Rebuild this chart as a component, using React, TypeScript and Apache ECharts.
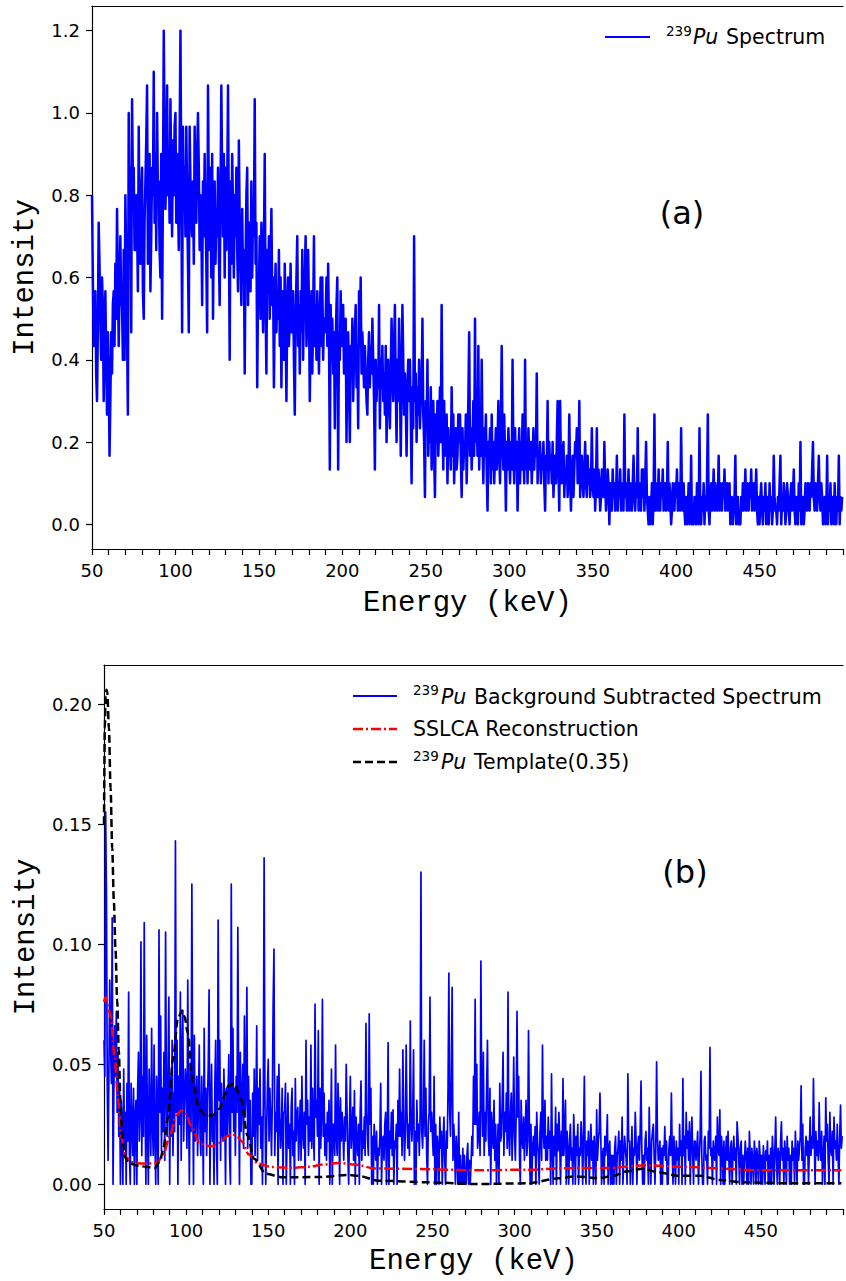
import React, { useEffect, useRef } from "react";
import * as echarts from "echarts";

// First channel sits at 50 keV; channels are 0.5 keV wide.
const ENERGY_START = 50;
const CHANNEL_KEV = 0.5;

// Raw 239Pu spectrum, counts per channel (50..499.5 keV), normalised by COUNT_NORM.
const COUNT_NORM = 30;
const rawCounts = [
  24, 18, 13, 16, 17, 11, 9, 14, 22, 19, 15, 12, 18, 16, 9, 13, 17, 12, 8, 14, // 50
  11, 5, 9, 14, 11, 16, 17, 13, 19, 15, 23, 18, 13, 17, 21, 16, 16, 12, 20, 12, // 60
  24, 19, 14, 8, 30, 22, 26, 14, 31, 25, 26, 20, 20, 24, 22, 17, 29, 21, 19, 24, // 70
  26, 17, 15, 22, 25, 28, 32, 19, 23, 27, 17, 21, 26, 24, 33, 22, 27, 20, 30, 24, // 80
  25, 20, 18, 27, 15, 24, 36, 28, 23, 26, 32, 24, 27, 22, 31, 25, 21, 28, 24, 29, // 90
  30, 22, 27, 24, 20, 28, 36, 25, 14, 29, 23, 26, 21, 29, 24, 19, 14, 29, 25, 22, // 100
  21, 25, 19, 29, 24, 22, 27, 30, 26, 20, 24, 22, 16, 25, 21, 27, 23, 19, 14, 32, // 110
  24, 20, 26, 18, 27, 15, 22, 25, 19, 23, 21, 26, 20, 16, 24, 32, 25, 21, 27, 18, // 120
  26, 20, 24, 32, 22, 12, 25, 19, 27, 23, 18, 24, 21, 26, 20, 17, 28, 22, 19, 16, // 130
  23, 18, 20, 11, 19, 24, 26, 16, 22, 20, 17, 25, 18, 23, 21, 31, 19, 22, 10, 17, // 140
  17, 21, 15, 22, 18, 14, 20, 27, 16, 11, 20, 17, 21, 15, 19, 23, 16, 18, 10, 16, // 150
  19, 14, 17, 15, 20, 13, 18, 10, 17, 14, 12, 19, 15, 9, 16, 18, 13, 15, 19, 14, // 160
  14, 17, 12, 8, 15, 18, 21, 13, 16, 11, 17, 14, 20, 12, 16, 18, 21, 13, 15, 20, // 170
  16, 9, 14, 17, 11, 15, 21, 13, 16, 12, 17, 14, 11, 15, 18, 13, 18, 12, 15, 14, // 180
  15, 18, 13, 19, 14, 4, 16, 12, 15, 11, 14, 7, 13, 16, 18, 4, 14, 12, 17, 13, // 190
  14, 16, 11, 13, 15, 6, 12, 14, 10, 6, 13, 11, 15, 9, 12, 14, 16, 10, 13, 7, // 200
  17, 13, 18, 11, 14, 12, 10, 13, 11, 9, 8, 12, 14, 10, 13, 11, 15, 12, 9, 4, // 210
  12, 9, 11, 10, 16, 7, 12, 10, 13, 9, 11, 8, 13, 6, 10, 12, 9, 7, 11, 15, // 220
  11, 9, 13, 16, 10, 6, 12, 9, 15, 11, 5, 10, 16, 12, 8, 11, 9, 5, 10, 12, // 230
  9, 12, 8, 3, 10, 7, 21, 9, 11, 6, 10, 8, 12, 7, 9, 10, 15, 8, 6, 2, // 240
  9, 7, 12, 5, 8, 6, 10, 4, 7, 9, 5, 2, 8, 6, 9, 5, 7, 10, 6, 16, // 250
  7, 4, 9, 5, 6, 8, 3, 7, 5, 6, 4, 10, 5, 8, 3, 6, 7, 4, 5, 8, // 260
  6, 8, 5, 2, 7, 4, 6, 5, 8, 3, 6, 9, 14, 5, 7, 4, 6, 9, 5, 15, // 270
  6, 8, 5, 13, 4, 7, 5, 12, 6, 3, 7, 5, 8, 4, 1, 6, 5, 7, 3, 8, // 280
  4, 6, 3, 5, 7, 4, 6, 9, 5, 3, 7, 13, 6, 4, 8, 5, 1, 6, 4, 7, // 290
  5, 3, 6, 4, 12, 5, 3, 7, 4, 6, 1, 5, 7, 3, 6, 4, 8, 5, 3, 12, // 300
  4, 6, 3, 7, 5, 4, 6, 3, 5, 7, 4, 6, 5, 11, 3, 5, 4, 6, 3, 5, // 310
  4, 6, 3, 1, 5, 4, 9, 3, 6, 4, 5, 3, 6, 2, 4, 5, 3, 6, 9, 4, // 320
  1, 9, 4, 3, 5, 6, 2, 4, 3, 5, 2, 4, 8, 3, 1, 4, 5, 2, 4, 6, // 330
  5, 7, 3, 4, 9, 2, 4, 5, 3, 2, 4, 6, 3, 2, 5, 3, 4, 2, 3, 7, // 340
  3, 2, 4, 1, 3, 7, 2, 4, 3, 1, 2, 4, 3, 2, 6, 3, 1, 2, 4, 3, // 350
  0, 3, 2, 1, 4, 2, 3, 1, 2, 5, 1, 3, 2, 4, 1, 2, 3, 1, 8, 2, // 360
  3, 1, 2, 4, 1, 3, 2, 1, 3, 5, 2, 1, 3, 2, 7, 1, 3, 2, 1, 4, // 370
  2, 4, 1, 3, 6, 2, 1, 0, 2, 0, 1, 3, 0, 2, 8, 1, 3, 2, 1, 4, // 380
  2, 1, 3, 2, 4, 1, 2, 3, 1, 2, 6, 1, 3, 2, 0, 1, 3, 2, 1, 3, // 390
  2, 4, 1, 3, 2, 1, 7, 2, 1, 3, 1, 0, 2, 0, 1, 3, 0, 1, 5, 0, // 400
  1, 0, 2, 1, 0, 3, 1, 0, 7, 1, 0, 2, 1, 3, 0, 2, 1, 3, 8, 1, // 410
  0, 2, 3, 1, 2, 4, 1, 3, 2, 1, 2, 5, 1, 3, 2, 1, 3, 2, 4, 1, // 420
  2, 3, 1, 2, 3, 0, 1, 2, 0, 1, 2, 5, 0, 1, 2, 0, 1, 0, 2, 1, // 430
  3, 1, 2, 4, 1, 3, 2, 1, 3, 2, 4, 1, 2, 3, 1, 2, 4, 1, 0, 2, // 440
  0, 2, 3, 1, 0, 2, 1, 3, 0, 2, 1, 0, 3, 1, 2, 0, 1, 5, 2, 1, // 450
  1, 0, 2, 1, 3, 5, 0, 2, 1, 3, 2, 0, 1, 3, 2, 1, 0, 2, 3, 1, // 460
  2, 4, 1, 0, 2, 1, 0, 3, 1, 6, 0, 1, 2, 0, 1, 3, 2, 1, 3, 2, // 470
  1, 3, 2, 4, 6, 2, 1, 3, 2, 1, 3, 5, 2, 1, 3, 2, 0, 1, 2, 0, // 480
  1, 5, 0, 2, 1, 3, 0, 1, 2, 0, 3, 1, 0, 2, 1, 5, 0, 2, 1, 2, // 490
];

// Background-subtracted spectrum, intensity in units of 1e-3 (50..499.5 keV); negatives clipped to 0.
const bgSubMilli = [
  60, 45, 155, 120, 40, 10, 48, 85, 58, 42, 111, 0, 38, 66, 45, 72, 30, 55, 20, 42, // 50
  0, 35, 22, 0, 48, 15, 30, 0, 42, 18, 80, 12, 0, 42, 25, 12, 40, 0, 28, 35, // 60
  0, 40, 55, 18, 30, 101, 12, 45, 20, 109, 35, 0, 62, 22, 0, 48, 30, 12, 65, 25, // 70
  12, 58, 20, 0, 45, 25, 0, 106, 30, 70, 14, 40, 22, 55, 10, 105, 38, 20, 48, 78, // 80
  0, 45, 20, 60, 12, 38, 22, 143, 30, 60, 0, 45, 25, 80, 10, 55, 72, 18, 35, 48, // 90
  40, 15, 85, 30, 0, 50, 22, 125, 40, 0, 62, 18, 30, 45, 12, 35, 58, 20, 12, 45, // 100
  28, 0, 65, 22, 40, 12, 35, 50, 81, 0, 30, 50, 18, 28, 0, 42, 60, 15, 0, 110, // 110
  35, 60, 10, 42, 22, 18, 48, 30, 0, 40, 20, 36, 54, 12, 0, 125, 30, 65, 22, 40, // 120
  12, 45, 30, 107, 40, 0, 55, 22, 35, 50, 15, 70, 28, 40, 82, 15, 45, 20, 35, 0, // 130
  0, 38, 20, 48, 12, 30, 66, 10, 40, 25, 48, 15, 28, 0, 35, 136, 35, 0, 22, 40, // 140
  52, 18, 40, 28, 12, 35, 75, 98, 12, 30, 22, 45, 0, 50, 28, 15, 22, 40, 0, 30, // 150
  30, 42, 0, 20, 38, 15, 25, 0, 32, 40, 12, 22, 0, 44, 18, 28, 32, 10, 22, 35, // 160
  10, 45, 22, 15, 30, 0, 60, 25, 35, 12, 28, 18, 58, 15, 40, 22, 10, 75, 28, 35, // 170
  20, 64, 0, 40, 15, 30, 77, 20, 38, 12, 25, 10, 30, 18, 35, 0, 22, 48, 0, 25, // 180
  25, 12, 58, 20, 12, 42, 28, 0, 36, 18, 30, 22, 10, 28, 18, 50, 30, 12, 0, 25, // 190
  45, 15, 22, 32, 10, 39, 0, 28, 18, 12, 25, 0, 30, 43, 10, 22, 15, 28, 12, 67, // 200
  30, 18, 12, 71, 25, 40, 0, 20, 0, 25, 18, 10, 22, 0, 15, 12, 20, 42, 0, 18, // 210
  20, 10, 25, 30, 0, 18, 59, 0, 22, 15, 30, 12, 31, 0, 18, 15, 25, 0, 35, 20, // 220
  48, 20, 30, 12, 56, 25, 10, 22, 58, 30, 15, 25, 12, 68, 25, 18, 30, 56, 0, 22, // 230
  0, 35, 18, 25, 12, 30, 130, 22, 15, 28, 60, 20, 40, 12, 0, 25, 30, 78, 22, 30, // 240
  20, 12, 45, 0, 25, 0, 20, 15, 0, 28, 15, 22, 0, 18, 28, 10, 0, 22, 15, 40, // 250
  88, 30, 20, 45, 82, 10, 25, 15, 0, 20, 12, 0, 30, 0, 12, 0, 0, 15, 0, 12, // 260
  0, 0, 12, 17, 0, 10, 0, 8, 20, 12, 45, 25, 77, 25, 50, 15, 20, 30, 12, 93, // 270
  35, 20, 55, 12, 30, 18, 40, 60, 20, 12, 40, 0, 30, 22, 15, 35, 10, 25, 0, 15, // 280
  25, 0, 42, 18, 20, 35, 55, 12, 30, 22, 38, 15, 80, 20, 12, 30, 38, 10, 25, 53, // 290
  20, 10, 30, 72, 28, 45, 12, 0, 35, 20, 15, 28, 10, 22, 35, 12, 18, 64, 25, 0, // 300
  25, 0, 15, 20, 12, 24, 0, 30, 18, 12, 0, 22, 30, 10, 58, 22, 15, 35, 10, 20, // 310
  10, 28, 15, 22, 0, 46, 15, 0, 20, 12, 32, 0, 25, 14, 30, 18, 0, 22, 12, 44, // 320
  12, 20, 35, 0, 22, 14, 0, 18, 25, 10, 15, 0, 29, 18, 0, 20, 12, 25, 0, 15, // 330
  12, 26, 18, 0, 22, 45, 10, 0, 18, 12, 22, 0, 15, 25, 10, 18, 0, 20, 12, 0, // 340
  31, 10, 18, 22, 38, 20, 0, 12, 15, 0, 20, 12, 18, 29, 0, 15, 18, 0, 12, 0, // 350
  12, 0, 15, 20, 0, 12, 15, 22, 0, 18, 10, 28, 0, 12, 20, 15, 10, 0, 46, 18, // 360
  18, 0, 12, 24, 0, 15, 12, 30, 18, 0, 15, 20, 10, 22, 43, 15, 0, 12, 0, 18, // 370
  22, 10, 15, 0, 32, 12, 0, 18, 22, 25, 12, 0, 15, 51, 20, 10, 12, 18, 0, 15, // 380
  0, 16, 12, 24, 10, 18, 0, 0, 15, 20, 12, 38, 14, 0, 20, 12, 0, 18, 10, 15, // 390
  0, 25, 12, 18, 0, 44, 12, 20, 0, 30, 15, 22, 10, 26, 0, 18, 28, 12, 0, 18, // 400
  18, 10, 15, 22, 0, 12, 20, 47, 12, 0, 0, 18, 20, 10, 12, 0, 22, 15, 57, 12, // 410
  15, 0, 18, 12, 10, 20, 0, 28, 15, 12, 31, 0, 20, 14, 0, 18, 0, 12, 20, 10, // 420
  22, 10, 0, 15, 18, 0, 12, 20, 10, 15, 0, 26, 20, 12, 0, 15, 18, 0, 12, 0, // 430
  10, 18, 12, 0, 15, 0, 22, 12, 0, 15, 10, 0, 18, 12, 0, 15, 10, 0, 18, 12, // 440
  0, 12, 0, 16, 10, 0, 14, 10, 18, 0, 12, 0, 15, 0, 20, 12, 0, 14, 28, 10, // 450
  0, 15, 12, 0, 18, 26, 10, 15, 0, 18, 12, 0, 20, 10, 15, 0, 12, 0, 18, 10, // 460
  15, 0, 22, 12, 0, 18, 10, 15, 20, 41, 10, 25, 0, 0, 15, 20, 12, 18, 0, 15, // 470
  28, 12, 20, 15, 44, 20, 0, 22, 12, 18, 10, 34, 15, 10, 22, 0, 12, 20, 0, 36, // 480
  18, 25, 10, 0, 30, 15, 12, 22, 0, 28, 15, 18, 10, 25, 12, 0, 20, 33, 15, 20, // 490
];

// SSLCA reconstruction (keV, intensity).
const reconKeV = [
  50, 51, 52, 54, 56.5, 58.5, 60.5, 63, 66.5, 70,
  76, 82, 86, 90, 94, 97, 100, 103, 108, 112,
  116, 120, 125, 128, 131, 134, 138, 144, 152, 165,
  175, 183, 193, 203, 215, 238, 278, 308, 338, 357,
  379, 407, 428, 448, 499,
];
const reconVal = [
  0.076, 0.078, 0.076, 0.07, 0.053, 0.036, 0.02, 0.0115, 0.0093, 0.0088,
  0.0086, 0.0088, 0.012, 0.02, 0.0286, 0.0307, 0.0293, 0.0244, 0.0175, 0.016,
  0.0158, 0.0172, 0.02, 0.021, 0.02, 0.0178, 0.0125, 0.0086, 0.0072, 0.0068,
  0.0073, 0.0082, 0.0089, 0.0082, 0.0066, 0.0064, 0.0058, 0.0061, 0.0068, 0.0068,
  0.0079, 0.0072, 0.0065, 0.0058, 0.0058,
];

// 239Pu template scaled by 0.35 (keV, intensity).
const templateKeV = [
  50, 50.5, 51, 51.5, 52, 53, 54, 55, 56, 57,
  58, 59, 60, 61, 62, 63, 65, 72, 81, 84,
  86, 89, 92, 95, 97.6, 99, 101, 104, 108, 112,
  116, 120, 126, 129.3, 133.4, 137.4, 141.4, 148.5, 158.6, 181,
  199, 205, 217, 248, 278, 308, 327, 337, 351, 359,
  369, 378, 387, 399, 413, 425, 440, 468, 499,
];
const templateVal = [
  0.15, 0.19, 0.203, 0.206, 0.205, 0.19, 0.165, 0.14, 0.118, 0.098,
  0.077, 0.056, 0.035, 0.022, 0.015, 0.011, 0.0088, 0.0075, 0.0068, 0.0095,
  0.0143, 0.028, 0.052, 0.069, 0.0724, 0.07, 0.063, 0.0425, 0.0314, 0.0285,
  0.0286, 0.0314, 0.041, 0.042, 0.0355, 0.0203, 0.0106, 0.0044, 0.0029, 0.003,
  0.0039, 0.0035, 0.0015, 0.0008, 0.0001, 0.0004, 0.0025, 0.0033, 0.0026, 0.0033,
  0.0054, 0.0065, 0.0051, 0.0036, 0.0036, 0.0018, 0.0008, 0.0004, 0.0004,
];

const topYTicks = [0, 0.2, 0.4, 0.6, 0.8, 1.0, 1.2];
const bottomYTicks = [0, 0.05, 0.1, 0.15, 0.2];

const TICK_FONT = "DejaVu Sans";
const NAME_FONT = "'Courier New', 'Liberation Mono', monospace";

function energyAxis(gridIndex: number, nameGap: number) {
  return {
    gridIndex,
    type: "value",
    min: 50,
    max: 500,
    interval: 10,
    position: "bottom",
    axisLine: { show: true, onZero: false, lineStyle: { color: "#000", width: 1.2 } },
    axisTick: { show: true, length: 6, lineStyle: { color: "#000", width: 1.2 } },
    axisLabel: {
      color: "#000",
      fontSize: 18,
      fontFamily: TICK_FONT,
      margin: 12,
      formatter: (v: number) => (v % 50 === 0 && v < 500 ? String(v) : ""),
    },
    splitLine: { show: false },
    name: "Energy (keV)",
    nameLocation: "middle",
    nameGap,
    nameTextStyle: { color: "#000", fontSize: 29, fontFamily: NAME_FONT },
  };
}

function topSpine(gridIndex: number) {
  return {
    gridIndex,
    type: "value",
    min: 50,
    max: 500,
    position: "top",
    axisLine: { show: true, onZero: false, lineStyle: { color: "#000", width: 1.2 } },
    axisTick: { show: false },
    axisLabel: { show: false },
    splitLine: { show: false },
  };
}

function intensityAxis(
  gridIndex: number,
  min: number,
  max: number,
  ticks: number[],
  digits: number,
  nameGap: number
) {
  return {
    gridIndex,
    type: "value",
    min,
    max,
    axisLine: { show: true, onZero: false, lineStyle: { color: "#000", width: 1.2 } },
    axisTick: { show: true, length: 6, customValues: ticks, lineStyle: { color: "#000", width: 1.2 } },
    axisLabel: {
      customValues: ticks,
      color: "#000",
      fontSize: 18,
      fontFamily: TICK_FONT,
      margin: 12,
      formatter: (v: number) => v.toFixed(digits),
    },
    splitLine: { show: false },
    name: "Intensity",
    nameLocation: "middle",
    nameGap,
    nameTextStyle: { color: "#000", fontSize: 29, fontFamily: NAME_FONT },
  };
}

function legendText(x: number, y: number, text: string, size: number, italic = false) {
  return {
    type: "text",
    x,
    y,
    silent: true,
    style: {
      text,
      fill: "#000",
      fontSize: size,
      fontFamily: "DejaVu Sans",
      fontStyle: italic ? "italic" : "normal",
      align: "left",
      verticalAlign: "middle",
    },
  };
}

function legendLine(y: number, x1: number, x2: number, color: string, dash: number[] | null) {
  return {
    type: "line",
    silent: true,
    shape: { x1, y1: y, x2, y2: y },
    style: { stroke: color, lineWidth: dash ? 2.5 : 2, lineDash: dash || undefined },
  };
}

export default function App() {
  const ref = useRef<HTMLDivElement>(null);

  useEffect(() => {
    if (!ref.current) return;
    const chart = echarts.init(ref.current, null, { renderer: "svg" });

    const energyOf = (i: number) => ENERGY_START + i * CHANNEL_KEV;
    const rawSeries = rawCounts.map((c, i) => [energyOf(i), c / COUNT_NORM]);
    const subSeries = bgSubMilli.map((v, i) => [energyOf(i), v / 1000]);
    const reconSeries = reconKeV.map((k, i) => [k, reconVal[i]]);
    const templateSeries = templateKeV.map((k, i) => [k, templateVal[i]]);

    chart.setOption({
      animation: false,
      backgroundColor: "#fff",
      grid: [
        { left: 92, top: 6, width: 754, height: 543 },
        { left: 104, top: 665, width: 742, height: 544 },
      ],
      xAxis: [energyAxis(0, 40), energyAxis(1, 38), topSpine(0), topSpine(1)],
      yAxis: [
        intensityAxis(0, -0.06, 1.26, topYTicks, 1, 48),
        intensityAxis(1, -0.0103, 0.2163, bottomYTicks, 2, 60),
      ],
      series: [
        {
          type: "line",
          xAxisIndex: 0,
          yAxisIndex: 0,
          data: rawSeries,
          showSymbol: false,
          silent: true,
          lineStyle: { color: "#0000ff", width: 2.5, join: "round" },
        },
        {
          type: "line",
          xAxisIndex: 1,
          yAxisIndex: 1,
          data: subSeries,
          showSymbol: false,
          silent: true,
          lineStyle: { color: "#0000ff", width: 1.7, join: "round" },
        },
        {
          type: "line",
          xAxisIndex: 1,
          yAxisIndex: 1,
          data: reconSeries,
          showSymbol: false,
          silent: true,
          smooth: 0.3,
          smoothMonotone: "x",
          lineStyle: { color: "#ff0000", width: 2.5, type: [10, 3, 2, 3] },
        },
        {
          type: "line",
          xAxisIndex: 1,
          yAxisIndex: 1,
          data: templateSeries,
          showSymbol: false,
          silent: true,
          smooth: 0.3,
          smoothMonotone: "x",
          lineStyle: { color: "#000000", width: 2.5, type: [8, 4] },
        },
      ],
      graphic: [
        // panel (a) legend
        legendLine(37, 605, 650, "#0000ff", null),
        legendText(666, 31, "239", 13.5),
        legendText(693, 37, "Pu", 20.5, true),
        legendText(726, 37, "Spectrum", 20.5),
        {
          type: "text",
          x: 682,
          y: 213,
          silent: true,
          style: { text: "(a)", fill: "#000", fontSize: 32, fontFamily: "DejaVu Sans", align: "center", verticalAlign: "middle" },
        },
        // panel (b) legend
        legendLine(696, 353, 397, "#0000ff", null),
        legendText(413, 690, "239", 13.5),
        legendText(441, 697, "Pu", 20.5, true),
        legendText(474, 697, "Background Subtracted Spectrum", 20.5),
        legendLine(729, 353, 397, "#ff0000", [10, 3, 2, 3]),
        legendText(413, 729, "SSLCA Reconstruction", 20.5),
        legendLine(762, 353, 397, "#000000", [8, 4]),
        legendText(413, 756, "239", 13.5),
        legendText(441, 762, "Pu", 20.5, true),
        legendText(474, 762, "Template(0.35)", 20.5),
        {
          type: "text",
          x: 685,
          y: 872,
          silent: true,
          style: { text: "(b)", fill: "#000", fontSize: 32, fontFamily: "DejaVu Sans", align: "center", verticalAlign: "middle" },
        },
      ],
    });

    return () => chart.dispose();
  }, []);

  return (
    <div
      ref={ref}
      style={{ position: "absolute", left: 0, top: 0, width: 846, height: 1281, background: "#fff" }}
    />
  );
}
